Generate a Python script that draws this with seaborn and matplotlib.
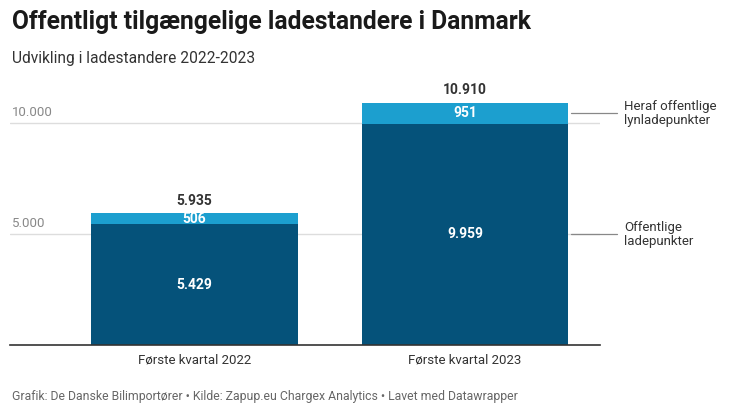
import matplotlib
matplotlib.use('Agg')
import matplotlib.pyplot as plt
import matplotlib.transforms as mtransforms
import seaborn as sns
import pandas as pd

categories = ['Første kvartal 2022', 'Første kvartal 2023']
ladepunkter = [5429, 9959]
lynladepunkter = [506, 951]
series_names = ['Offentlige\nladepunkter', 'Heraf offentlige\nlynladepunkter']
yticks = [5000, 10000]

totals = [a + b for a, b in zip(ladepunkter, lynladepunkter)]
df = pd.DataFrame({'kvartal': categories, 'lade': ladepunkter, 'lyn': lynladepunkter, 'total': totals})


def fmt(v):
    return f'{v:,}'.replace(',', '.')


sns.set_theme(style='white')
plt.rcParams['font.family'] = ['Roboto', 'DejaVu Sans']

dark = '#05527a'
light = '#1c9fcf'
txt = '#333333'

fig = plt.figure(figsize=(7.3, 4.15), dpi=100)
ax = fig.add_axes([10 / 730, 70 / 415, 590 / 730, 255 / 415])

bw = 0.765
sns.barplot(data=df, x='kvartal', y='total', color=light, width=bw, saturation=1, linewidth=0, ax=ax)
sns.barplot(data=df, x='kvartal', y='lade', color=dark, width=bw, saturation=1, linewidth=0, ax=ax)

ax.set_xlim(-0.682, 1.499)
ax.set_ylim(0, 11486)
for s in ['top', 'right', 'left']:
    ax.spines[s].set_visible(False)
ax.spines['bottom'].set_color('#333333')
ax.spines['bottom'].set_linewidth(1.2)
ax.set_yticks([])
ax.set_xlabel('')
ax.set_ylabel('')
ax.tick_params(axis='x', length=0, pad=6, labelsize=9.5, labelcolor=txt)

trans = mtransforms.blended_transform_factory(ax.transAxes, ax.transData)
for t in yticks:
    ax.axhline(t, color='#dddddd', lw=1, zorder=0)
    ax.text(0.003, t + 180, fmt(t), transform=trans, fontsize=9.5, color='#888888', ha='left', va='bottom')

for i in range(len(categories)):
    ax.text(i, totals[i] + 250, fmt(totals[i]), ha='center', va='bottom', fontsize=10,
            fontweight='bold', color=txt)
    ax.text(i, ladepunkter[i] + lynladepunkter[i] / 2, fmt(lynladepunkter[i]), ha='center', va='center',
            fontsize=10, fontweight='bold', color='white')
    ax.text(i, ladepunkter[i] / 2, fmt(ladepunkter[i]), ha='center', va='center', fontsize=10,
            fontweight='bold', color='white')

# leader lines to the right of the last bar
last = len(categories) - 1
x0 = last + bw / 2 + 0.01
x1 = 1.562
ys = [ladepunkter[last] / 2, ladepunkter[last] + lynladepunkter[last] / 2]
for name, yy in zip(series_names, ys):
    ax.plot([x0, x1], [yy, yy], color='#888888', lw=0.9, clip_on=False)
    ax.text(x1 + 0.026, yy, name, ha='left', va='center', fontsize=9.5, color=txt, linespacing=1.15,
            clip_on=False)

fig.text(12 / 730, 1 - 22 / 415, 'Offentligt tilgængelige ladestandere i Danmark', fontsize=17.7,
         fontweight='bold', color='#1a1a1a', ha='left', va='center')
fig.text(12 / 730, 1 - 59 / 415, 'Udvikling i ladestandere 2022-2023', fontsize=11.2, color=txt,
         ha='left', va='center')
fig.text(12 / 730, 1 - 396 / 415,
         'Grafik: De Danske Bilimportører • Kilde: Zapup.eu Chargex Analytics • Lavet med Datawrapper',
         fontsize=8.8, color='#666666', ha='left', va='center')

fig.savefig('out.png', dpi=100, facecolor='white')
